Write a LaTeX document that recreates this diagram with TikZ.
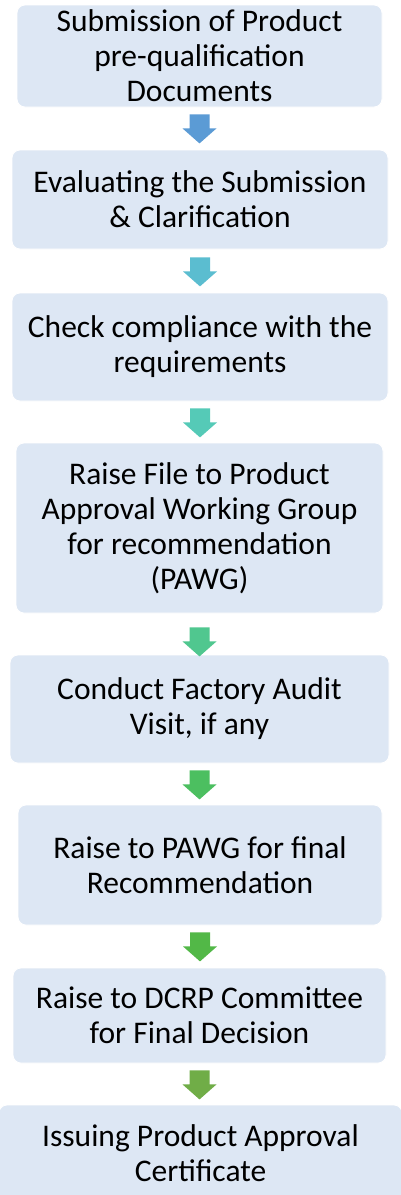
\documentclass[tikz,border=0pt]{standalone}
\usepackage{fontspec}
\setmainfont{Carlito}
\usetikzlibrary{calc}
\definecolor{boxfill}{HTML}{DDE7F4}
\definecolor{aone}{HTML}{5B9BD5}
\definecolor{atwo}{HTML}{5BBDD0}
\definecolor{athree}{HTML}{55CAB7}
\definecolor{afour}{HTML}{50C78F}
\definecolor{afive}{HTML}{4CBF60}
\definecolor{asix}{HTML}{52B847}
\definecolor{aseven}{HTML}{70AD47}
\newcommand{\blockarrow}[3]{%
  \fill[#3] ($(#1.south)+(0,#2)$) ++(-10,0) -- ++(20,0) -- ++(0,14) -- ++(7,0)
    -- ++(-17,15) -- ++(-17,-15) -- ++(7,0) -- cycle;}
\tikzset{
  stepbox/.style={rectangle, rounded corners=8pt, fill=boxfill, draw=white,
    line width=0.8pt, align=center, inner sep=0pt, text=black,
    font=\fontsize{31.5}{35}\selectfont},
}
\begin{document}
\begin{tikzpicture}[x=1pt,y=-1pt]
\useasboundingbox[fill=white] (0,0) rectangle (401,1195);
\node[stepbox, minimum width=365, minimum height=102] (b1) at (199.5,56)
  {Submission of Product\\pre-qualification\\Documents};
\node[stepbox, minimum width=376, minimum height=99] (b2) at (200,199.5)
  {Evaluating the Submission\\\& Clarification};
\node[stepbox, minimum width=376, minimum height=108] (b3) at (200,347)
  {Check compliance with the\\requirements};
\node[stepbox, minimum width=367, minimum height=170] (b4) at (199.5,528)
  {Raise File to Product\\Approval Working Group\\for recommendation\\(PAWG)};
\node[stepbox, minimum width=379, minimum height=108] (b5) at (199.5,709)
  {Conduct Factory Audit\\Visit, if any};
\node[stepbox, minimum width=364, minimum height=120] (b6) at (200,865)
  {Raise to PAWG for final\\Recommendation};
\node[stepbox, minimum width=373, minimum height=95] (b7) at (199.5,1015.5)
  {Raise to DCRP Committee\\for Final Decision};
\node[stepbox, minimum width=403, minimum height=97] (b8) at (200.5,1153.5)
  {Issuing Product Approval\\Certificate};
\blockarrow{b1}{7}{aone}
\blockarrow{b2}{8}{atwo}
\blockarrow{b3}{7}{athree}
\blockarrow{b4}{14}{afour}
\blockarrow{b5}{7}{afive}
\blockarrow{b6}{7}{asix}
\blockarrow{b7}{7}{aseven}
\end{tikzpicture}
\end{document}
